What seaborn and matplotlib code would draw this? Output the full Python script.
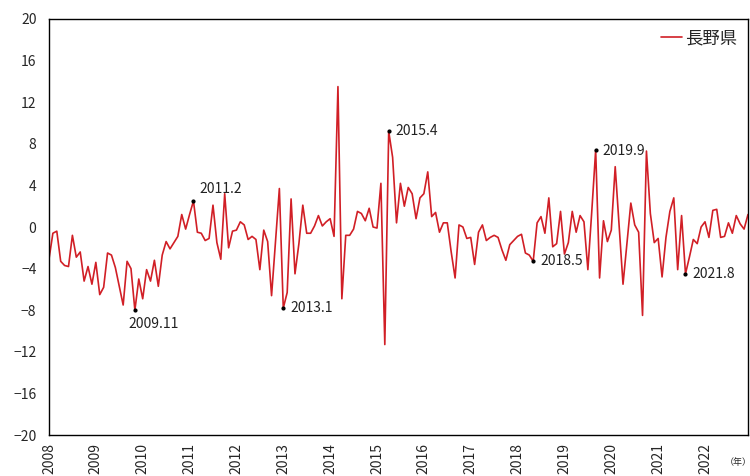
import matplotlib
matplotlib.use("Agg")
import numpy as np
import pandas as pd
import matplotlib.pyplot as plt
import seaborn as sns

# --------------------------------------------------
# Data (monthly, 2008.1 - 2022.12)
# --------------------------------------------------
start_year = 2008
end_year = 2022

values = [
    -3.1, -0.6, -0.4, -3.3, -3.7, -3.8, -0.8, -2.9, -2.4, -5.2, -3.8, -5.5,   # 2008
    -3.4, -6.5, -5.8, -2.5, -2.7, -3.9, -5.7, -7.5, -3.3, -4.0, -8.0, -5.0,   # 2009
    -6.9, -4.1, -5.2, -3.2, -5.7, -2.7, -1.4, -2.1, -1.5, -0.9, 1.2, -0.2,    # 2010
    1.2, 2.5, -0.5, -0.6, -1.3, -1.1, 2.1, -1.5, -3.1, 3.2, -2.0, -0.4,       # 2011
    -0.3, 0.5, 0.2, -1.2, -0.9, -1.2, -4.1, -0.3, -1.4, -6.6, -1.5, 3.7,      # 2012
    -7.8, -6.3, 2.7, -4.5, -1.6, 2.1, -0.6, -0.6, 0.1, 1.1, 0.1, 0.5,         # 2013
    0.8, -0.9, 13.5, -6.9, -0.8, -0.8, -0.2, 1.5, 1.3, 0.6, 1.8, 0.0,         # 2014
    -0.1, 4.2, -11.3, 9.2, 6.7, 0.4, 4.2, 2.0, 3.8, 3.2, 0.8, 2.8,            # 2015
    3.2, 5.3, 1.0, 1.4, -0.5, 0.4, 0.4, -2.4, -4.9, 0.2, 0.0, -1.1,           # 2016
    -1.0, -3.6, -0.5, 0.2, -1.3, -1.0, -0.8, -1.0, -2.2, -3.2, -1.7, -1.3,    # 2017
    -0.9, -0.7, -2.5, -2.7, -3.3, 0.4, 1.0, -0.6, 2.8, -1.9, -1.6, 1.5,       # 2018
    -2.6, -1.5, 1.5, -0.5, 1.1, 0.5, -4.1, 1.5, 7.4, -4.9, 0.6, -1.4,         # 2019
    -0.3, 5.8, 0.1, -5.5, -1.6, 2.3, 0.2, -0.5, -8.5, 7.3, 1.3, -1.5,         # 2020
    -1.1, -4.8, -1.0, 1.5, 2.8, -4.1, 1.1, -4.5, -2.9, -1.2, -1.6, 0.0,       # 2021
    0.5, -1.0, 1.6, 1.7, -1.0, -0.9, 0.4, -0.6, 1.1, 0.3, -0.2, 1.2,          # 2022
]

labelled_points = ["2009.11", "2011.2", "2013.1", "2015.4", "2018.5", "2019.9", "2021.8"]

series_name = "長野県"

# --------------------------------------------------
# Frame
# --------------------------------------------------
df = pd.DataFrame({
    "month": np.arange(len(values)),
    "value": values,
})

def month_index(label):
    y, m = label.split(".")
    return (int(y) - start_year) * 12 + int(m) - 1

# --------------------------------------------------
# Style
# --------------------------------------------------
sns.set_style("white")
plt.rcParams["font.family"] = ["Noto Sans CJK JP", "DejaVu Sans"]

fig = plt.figure(figsize=(7.5, 4.76), dpi=100)
ax = fig.add_axes([0.0653, 0.0861, 0.932, 0.874])

sns.lineplot(
    data=df,
    x="month",
    y="value",
    color="#D11F26",
    linewidth=1.2,
    label=series_name,
    ax=ax
)

# --------------------------------------------------
# Annotations
# --------------------------------------------------
text_offsets = {
    "2009.11": (-5, -10, "left", "center"),
    "2011.2": (4, 9, "left", "center"),
    "2013.1": (5, 0, "left", "center"),
    "2015.4": (5, 0, "left", "center"),
    "2018.5": (5, 0, "left", "center"),
    "2019.9": (5, -1, "left", "center"),
    "2021.8": (5, 0, "left", "center"),
}

for lab in labelled_points:
    i = month_index(lab)
    ax.plot(i, values[i], "o", color="black", markersize=2)
    dx, dy, ha, va = text_offsets[lab]
    ax.annotate(
        lab,
        xy=(i, values[i]),
        xytext=(dx, dy),
        textcoords="offset points",
        ha=ha,
        va=va,
        fontsize=10,
        color="#222222"
    )

# --------------------------------------------------
# Axes
# --------------------------------------------------
ax.set_xlim(0, len(values) - 1)
ax.set_ylim(-20, 20)
ax.set_yticks(range(-20, 21, 4))
ax.set_yticklabels([str(v).replace("-", "\u2212") if v < 0 else str(v) for v in range(-20, 21, 4)])

year_ticks = [(y - start_year) * 12 for y in range(start_year, end_year + 1)]
ax.set_xticks(year_ticks)
ax.set_xticklabels([str(y) for y in range(start_year, end_year + 1)], rotation=90)
ax.set_xticks(np.arange(len(values)), minor=True)

ax.tick_params(axis="x", which="major", direction="in", length=5, width=0.8, labelsize=10, pad=6)
ax.tick_params(axis="x", which="minor", direction="in", length=3, width=0.6)
ax.tick_params(axis="y", which="major", direction="in", length=4, width=0.8, labelsize=10, pad=9)

ax.set_xlabel("")
ax.set_ylabel("")

for s in ax.spines.values():
    s.set_color("black")
    s.set_linewidth(1.0)

fig.text(0.984, 0.029, "（年）", fontsize=6.5, ha="center", va="center")

ax.legend(
    loc="upper right",
    frameon=False,
    fontsize=12.5,
    handlelength=1.2,
    handletextpad=0.2,
    borderaxespad=0.2
)

plt.savefig("out.png", dpi=100)
